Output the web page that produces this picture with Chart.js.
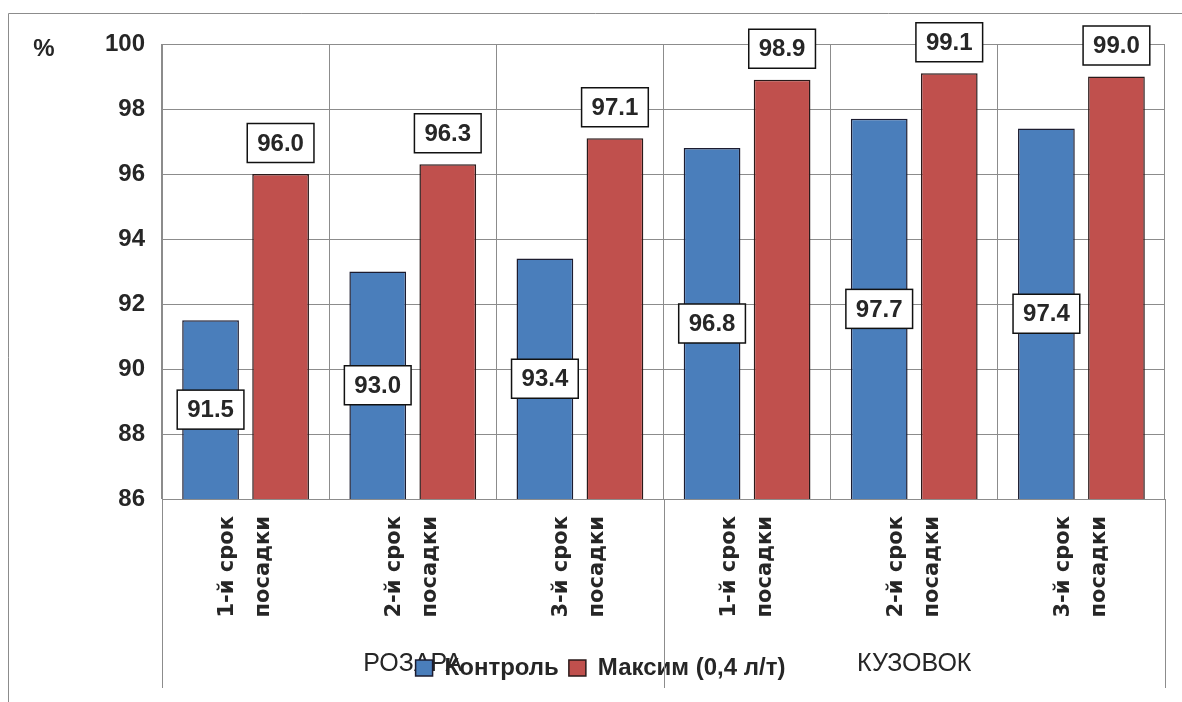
<!DOCTYPE html>
<html>
<head>
<meta charset="utf-8">
<script src="https://cdn.jsdelivr.net/npm/chart.js@4.4.1/dist/chart.umd.min.js"></script>
<style>
  body { margin: 0; background: #fff; }
  canvas { display: block; }
</style>
</head>
<body>
<canvas id="myChart" width="1182" height="702"></canvas>
<script>
// data
const categories = [
    ['1-й срок', 'посадки'], ['2-й срок', 'посадки'], ['3-й срок', 'посадки'],
    ['1-й срок', 'посадки'], ['2-й срок', 'посадки'], ['3-й срок', 'посадки']
];
const groups = ['РОЗАРА', 'КУЗОВОК']; // 3 categories each
const kontrol = [91.5, 93.0, 93.4, 96.8, 97.7, 97.4];
const maksim = [96.0, 96.3, 97.1, 98.9, 99.1, 99.0];
const seriesNames = ['Контроль', 'Максим (0,4 л/т)'];
const yTicks = { min: 86, max: 100, step: 2 };

const gridColor = '#8c8c8c';
const textColor = '#262626';
const boldFont = '"Liberation Sans", Arial, sans-serif';

const extras = {
    id: 'extras',
    beforeDraw(chart) {
        const { ctx, scales: { x, y } } = chart;
        ctx.save();
        // outer frame (left and top only visible)
        ctx.strokeStyle = gridColor;
        ctx.lineWidth = 1;
        ctx.beginPath();
        ctx.moveTo(8.5, chart.height);
        ctx.lineTo(8.5, 13.5);
        ctx.lineTo(chart.width, 13.5);
        ctx.stroke();

        ctx.fillStyle = textColor;
        ctx.textAlign = 'center';
        ctx.textBaseline = 'middle';
        ctx.font = 'bold 24px ' + boldFont;
        ctx.fillText('%', 44, y.getPixelForValue(yTicks.max) + 5);

        // group names under the tick labels
        ctx.font = '25px ' + boldFont;
        groups.forEach((g, i) => {
            const c = (x.getPixelForValue(i * 3) + x.getPixelForValue(i * 3 + 2)) / 2;
            ctx.fillText(g, c, 664);
        });
        ctx.restore();
    },
    afterDatasetsDraw(chart) {
        const ctx = chart.ctx;
        const yScale = chart.scales.y;
        ctx.save();
        ctx.font = 'bold 24px ' + boldFont;
        ctx.textAlign = 'center';
        ctx.textBaseline = 'middle';
        chart.data.datasets.forEach((ds, di) => {
            chart.getDatasetMeta(di).data.forEach((bar, i) => {
                const txt = ds.data[i].toFixed(1);
                const top = yScale.getPixelForValue(ds.data[i]);
                const base = yScale.getPixelForValue(yTicks.min);
                const cy = di === 0 ? (top + base) / 2 : top - 31;
                const w = ctx.measureText(txt).width + 20;
                const h = 39;
                ctx.fillStyle = '#fff';
                ctx.fillRect(bar.x - w / 2, cy - h / 2, w, h);
                ctx.strokeStyle = '#111';
                ctx.lineWidth = 1.5;
                ctx.strokeRect(bar.x - w / 2, cy - h / 2, w, h);
                ctx.fillStyle = textColor;
                ctx.fillText(txt, bar.x, cy + 1);
            });
        });
        ctx.restore();
    },
    afterDraw(chart) {
        // group separators run down past the labels
        const { ctx, chartArea, scales: { x } } = chart;
        const half = (x.getPixelForValue(1) - x.getPixelForValue(0)) / 2;
        ctx.save();
        ctx.strokeStyle = gridColor;
        ctx.lineWidth = 1;
        [0, 3, 6].forEach(i => {
            const px = Math.round(x.getPixelForValue(i) - half) + 0.5;
            ctx.beginPath();
            ctx.moveTo(px, chartArea.bottom);
            ctx.lineTo(px, 688);
            ctx.stroke();
        });
        ctx.restore();
    }
};

const data = {
    labels: categories,
    datasets: [{
        label: seriesNames[0],
        data: kontrol,
        backgroundColor: '#4a7ebb',
        borderColor: '#1c1c30',
        borderWidth: 1.5,
        categoryPercentage: 0.838,
        barPercentage: 0.81
    }, {
        label: seriesNames[1],
        data: maksim,
        backgroundColor: '#c0504d',
        borderColor: '#2a1a1a',
        borderWidth: 1.5,
        categoryPercentage: 0.838,
        barPercentage: 0.81
    }]
};

const config = {
    type: 'bar',
    data,
    plugins: [extras],
    options: {
        responsive: false,
        animation: false,
        devicePixelRatio: 1,
        layout: { padding: { left: 36, right: 17, top: 44, bottom: 12 } },
        plugins: {
            tooltip: { enabled: false },
            legend: {
                position: 'bottom',
                labels: {
                    boxWidth: 17,
                    boxHeight: 16,
                    padding: 10,
                    color: textColor,
                    font: { family: boldFont, size: 24, weight: 'bold' }
                }
            }
        },
        scales: {
            x: {
                grid: { color: gridColor, offset: true, drawTicks: false },
                border: { color: gridColor },
                ticks: {
                    autoSkip: false,
                    minRotation: 90,
                    maxRotation: 90,
                    padding: 17,
                    labelOffset: -18,
                    color: textColor,
                    font: { family: '"DejaVu Sans", sans-serif', size: 21, weight: 'bold', lineHeight: 1.72 }
                },
                afterFit(scale) { scale.height = 147; }
            },
            y: {
                min: yTicks.min,
                max: yTicks.max,
                grid: { color: gridColor, drawTicks: false },
                border: { color: gridColor },
                ticks: {
                    stepSize: yTicks.step,
                    padding: 17,
                    color: textColor,
                    font: { family: boldFont, size: 24, weight: 'bold' }
                },
                afterFit(scale) { scale.width = 126; }
            }
        }
    }
};

const myChart = new Chart(document.getElementById('myChart'), config);
</script>
</body>
</html>
